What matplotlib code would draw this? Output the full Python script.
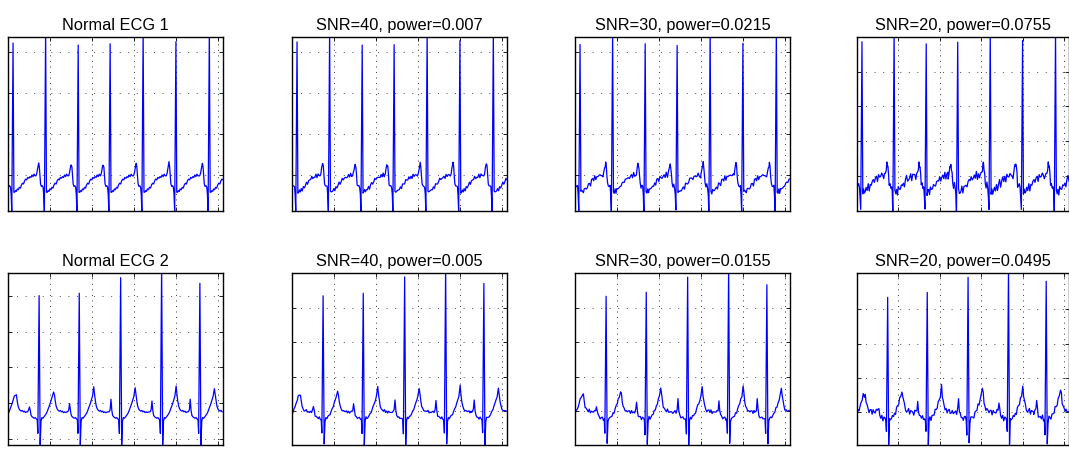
import numpy as np
import matplotlib.pyplot as plt

plt.rcParams['font.family'] = ['Liberation Sans', 'DejaVu Sans']

n_samples = 1024

# ---- record 1: R-peak sample positions and heights ----
ecg1_r_pos = [25, 180, 335, 487, 644, 800, 959]
ecg1_r_amp = [1.61, 1.75, 1.585, 1.60, 1.75, 1.625, 1.75]
ecg1_pre_amp = [0.13, 0.146, 0.122, 0.114, 0.142, 0.163, 0.142]
# one beat, offsets in samples from the R peak
ecg1_beat_off = [-46, -42, -38, -35, -33, -30, -27, -24, -20, -16, -12, -9, -6, 0,
                 4, 8, 12, 16, 20, 25, 30, 35, 40, 45, 50, 55, 60, 65, 70, 75,
                 80, 85, 90, 95, 100, 105]
ecg1_beat_val = [-0.01, 0.02, 0.08, 0.12, 0.146, 0.10, 0.0, -0.11, -0.14, -0.13, -0.15,
                 -0.24, -0.45, 1.6, -0.21, -0.21, -0.19, -0.20, -0.17, -0.18, -0.15,
                 -0.16, -0.12, -0.10, -0.11, -0.07, -0.05, -0.06, -0.03, -0.04, -0.02,
                 -0.03, 0.00, -0.02, 0.01, -0.01]
ecg1_peaks = {13: ecg1_r_amp, 4: ecg1_pre_amp}

# ---- record 2 ----
ecg2_r_pos = [-32, 149, 340, 537, 732, 914]
ecg2_r_amp = [1.5, 1.504, 1.537, 1.755, 1.90, 1.676]
ecg2_p_amp = [-0.05, -0.051, -0.005, 0.056, 0.032, 0.056]
ecg2_t_amp = [0.111, 0.157, 0.231, 0.218, 0.241, 0.204]
ecg2_beat_off = [-60, -55, -50, -46, -42, -38, -33, -28, -23, -18, -13, -9, -6, 0,
                 5, 9, 13, 18, 23, 28, 33, 38, 43, 48, 53, 58, 63, 69, 73, 77, 81,
                 86, 91, 96, 101, 106, 111, 116, 121, 126]
ecg2_beat_val = [-0.12, -0.12, -0.09, 0.0, -0.10, -0.17, -0.19, -0.20, -0.21, -0.20,
                 -0.22, -0.23, -0.42, 1.5, -0.58, -0.25, -0.20, -0.21, -0.19, -0.17,
                 -0.15, -0.12, -0.08, -0.04, 0.0, 0.05, 0.10, 0.2, 0.12, 0.03, -0.04,
                 -0.08, -0.10, -0.11, -0.10, -0.12, -0.11, -0.13, -0.12, -0.13]
ecg2_peaks = {13: ecg2_r_amp, 3: ecg2_p_amp, 27: ecg2_t_amp}

# additive noise shape (unit amplitude), scaled by noise power per panel
noise_shape = [0.3, -0.8, 0.5, 0.1, -0.4, 0.9, -0.2, -0.7, 0.6, 0.0, -0.5, 0.8,
               -0.9, 0.2, 0.4, -0.3, 0.7, -0.6, 0.1, 0.9, -0.8, -0.1, 0.5, -0.4,
               0.3, -0.9, 0.6, 0.2, -0.5, 0.8, -0.2, 0.0, -0.7, 0.4, 0.9, -0.3,
               -0.6, 0.1, 0.7, -0.8, 0.2, 0.5, -0.1, -0.9, 0.6, 0.3, -0.4, 0.8,
               -0.6, 0.0, 0.4, -0.2, 0.9, -0.7, 0.1, -0.5, 0.7, 0.3, -0.8, 0.5]

snr_levels = [40, 30, 20]
noise_power_1 = [0.007, 0.0215, 0.0755]
noise_power_2 = [0.005, 0.0155, 0.0495]

ylim_1 = (-0.439, 1.683)
ylim_2 = (-0.583, 1.82)
yticks_1 = [[0.0, 0.5, 1.0, 1.5], [0.0, 0.5, 1.0, 1.5], [0.0, 0.5, 1.0, 1.5],
            [-0.009, 0.411, 0.838, 1.26]]
yticks_2 = [[-0.5, 0.0, 0.5, 1.0, 1.5], [-0.111, 0.371, 0.851, 1.337],
            [-0.111, 0.371, 0.851, 1.337], [-0.115, 0.357, 0.833, 1.315]]


def build_trace(r_pos, offsets, values, peaks):
    xs, ys = [], []
    for i, r in enumerate(r_pos):
        stop = r_pos[i + 1] + offsets[0] if i + 1 < len(r_pos) else np.inf
        for k, (off, val) in enumerate(zip(offsets, values)):
            if k in peaks:
                val = peaks[k][i]
            x = r + off
            if x >= stop or x < 1 or x > n_samples:
                continue
            xs.append(x)
            ys.append(val)
    return np.array(xs, float), np.array(ys, float)


def add_noise(y, power, shift):
    idx = (np.arange(len(y)) + shift) % len(noise_shape)
    return y + 0.18 * np.sqrt(power) * np.array(noise_shape)[idx]


fig = plt.figure(figsize=(10.69, 4.52), dpi=100)
W, H = 1069, 452
lefts = [8, 292, 575, 857]
widths = [215, 215, 215, 212]
tops = [38, 274]
heights = [174, 172]

rows = [
    (build_trace(ecg1_r_pos, ecg1_beat_off, ecg1_beat_val, ecg1_peaks),
     'Normal ECG 1', noise_power_1, ylim_1, yticks_1),
    (build_trace(ecg2_r_pos, ecg2_beat_off, ecg2_beat_val, ecg2_peaks),
     'Normal ECG 2', noise_power_2, ylim_2, yticks_2),
]

for r, ((x, y), name, powers, ylim, yticks) in enumerate(rows):
    for c in range(4):
        ax = fig.add_axes([lefts[c] / W, 1 - (tops[r] + heights[r]) / H,
                           widths[c] / W, heights[r] / H])
        if c == 0:
            yy, title = y, name
        else:
            p = powers[c - 1]
            yy = add_noise(y, p, 13 * c + 7 * r)
            title = f'SNR={snr_levels[c - 1]}, power={p:g}'
        ax.plot(x, yy, color='#0000ff', lw=0.9)
        ax.set_xlim(1, n_samples)
        ax.set_ylim(*ylim)
        ax.set_xticks([200, 400, 600, 800, 1000])
        ax.set_yticks(yticks[c])
        ax.tick_params(direction='in', length=3, width=0.6, top=True, right=True,
                       labelbottom=False, labelleft=False)
        ax.xaxis.grid(True, color='0.2', linestyle=(0, (1, 4.7)), linewidth=0.7)
        ax.yaxis.grid(True, color='0.3', linestyle=(0, (1, 7.8)), linewidth=0.7)
        for s in ax.spines.values():
            s.set_linewidth(1.0)
        ax.set_title(title, fontsize=11.8, pad=6)

fig.savefig('out.png', dpi=100)
